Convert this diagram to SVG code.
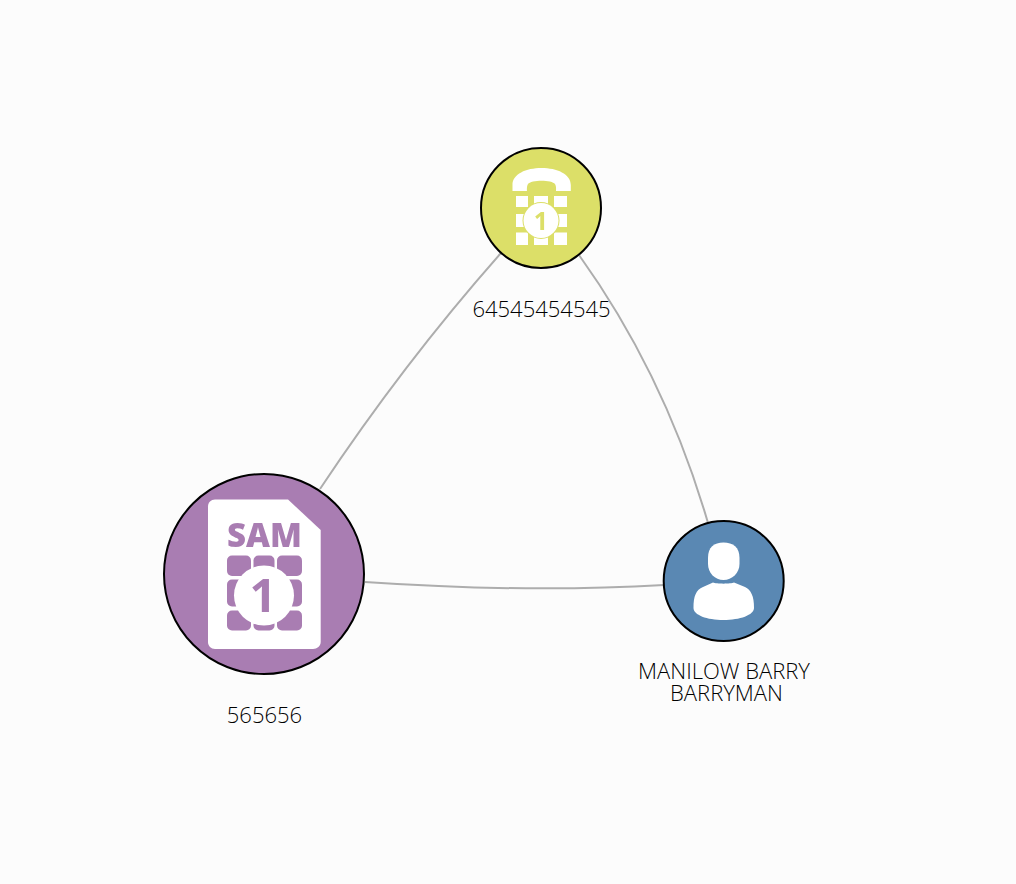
<svg xmlns="http://www.w3.org/2000/svg" width="1016" height="884" viewBox="0 0 1016 884">
<style>
.edge{fill:none;stroke:#adadad;stroke-width:2}
.ring{stroke:#000;stroke-width:2}
.label{font-family:"Open Sans","Liberation Sans",sans-serif;font-weight:300;font-size:22px;fill:#000;text-anchor:middle}
.icon{fill:#fff}
.soft{filter:url(#soft)}
.badge{font-family:"Open Sans","Liberation Sans",sans-serif;font-weight:700;text-anchor:middle}
</style>
<defs><filter id="soft" x="-5%" y="-5%" width="110%" height="110%"><feGaussianBlur stdDeviation="0.5"/></filter></defs>
<rect width="1016" height="884" fill="#fcfcfc"/>
<g id="connectors">
<path class="edge" d="M501 253Q403 364 320 489"/>
<path class="edge" d="M579 255Q665 375 708 523"/>
<path class="edge" d="M365 582Q525 593 664 585"/>
</g>
<g id="node-phone">
<circle class="ring" cx="541" cy="208" r="60" fill="#dcdf68"/>
<g class="soft">
<path class="icon" d="M512.500 191V185C512.500 174 526 168 541.500 168S570.800 174 570.800 185V191H556C556 191 556.500 186 555 184C552 179.500 531 179.500 528 184C526.500 186 527 191 527 191Z"/>
<g class="icon">
<rect x="516" y="196" width="12" height="11"/><rect x="534" y="196" width="14" height="11"/><rect x="554" y="196" width="13" height="11"/>
<rect x="516" y="214" width="9" height="13"/><rect x="558" y="214" width="9" height="13"/>
<rect x="516" y="232.500" width="12" height="12.500"/><rect x="534" y="235" width="14" height="10"/><rect x="554" y="232.500" width="13" height="12.500"/>
</g>
<circle cx="541" cy="220.500" r="18.500" fill="#dcdf68"/>
<circle class="icon" cx="541" cy="220.500" r="17.500"/>
<text class="badge" x="541" y="230" font-size="25" fill="#dcdf68">1</text>
</g>
<text class="label" x="541.500" y="316.500">64545454545</text>
</g>
<g id="node-sim">
<circle class="ring" cx="264" cy="574" r="100" fill="#a97db2"/>
<g class="soft">
<path class="icon" d="M215 499.500H288L320.700 530V642C320.700 646 317 649 313 649H215C211 649 208 646 208 642V506.500C208 502.500 211 499.500 215 499.500Z"/>
<text class="badge" x="264.500" y="546.500" font-size="33" style="font-weight:800" fill="#a97db2">SAM</text>
<g fill="#a97db2">
<rect x="227" y="555.500" width="24" height="20.500" rx="5"/><rect x="253.500" y="555.500" width="21" height="20.500" rx="5"/><rect x="277" y="555.500" width="25" height="20.500" rx="5"/>
<rect x="227" y="579.500" width="24" height="27" rx="5"/><rect x="277" y="579.500" width="25" height="27" rx="5"/>
<rect x="227" y="610.500" width="24" height="20" rx="5"/><rect x="253.500" y="610.500" width="21" height="20" rx="5"/><rect x="277" y="610.500" width="25" height="20" rx="5"/>
</g>
<circle class="icon" cx="264" cy="595.500" r="30"/>
<text class="badge" x="263" y="612" font-size="47" fill="#a97db2">1</text>
</g>
<text class="label" x="264.500" y="723">565656</text>
</g>
<g id="node-person">
<circle class="ring" cx="723.700" cy="581" r="60" fill="#5a88b3"/>
<g class="soft">
<path class="icon" d="M708 558C708 547 714 542.500 723.500 542.500S739.500 547 739.500 558V564C739.500 573 732 580 723.500 580S708 573 708 564Z"/>
<path class="icon" d="M693.500 608C693.500 596 696 590 703 587L713 582.500C716 584 731 584 734 582.500L745 587C751 590 754 596 754 608C754 615 740 620 723.500 620S693.500 615 693.500 608Z"/>
</g>
<text class="label" y="678.500"><tspan x="724">MANILOW BARRY</tspan><tspan x="726.500" dy="22">BARRYMAN</tspan></text>
</g>
</svg>
